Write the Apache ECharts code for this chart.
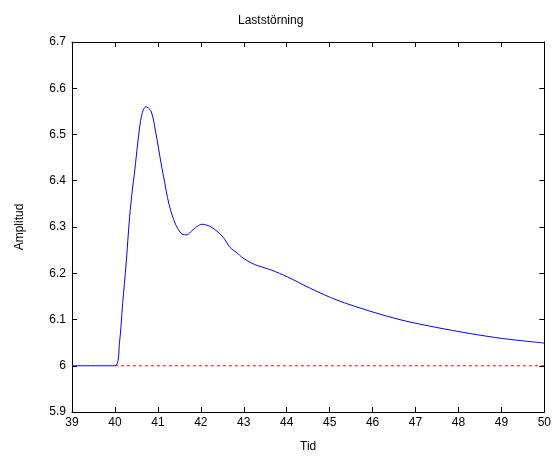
<!DOCTYPE html>
<html><head><meta charset="utf-8">
<script src="https://cdn.jsdelivr.net/npm/echarts@6/dist/echarts.min.js"></script>
<style>html,body{margin:0;padding:0;background:#fff;overflow:hidden}#c{width:554px;height:458px}</style>
</head><body><div id="c"></div>
<script>
const titleText = 'Laststörning';
const xName = 'Tid';
const yName = 'Amplitud';
const responseX = [39, 40, 40.106, 40.18, 40.26, 40.34, 40.41, 40.45, 40.57, 40.64, 40.72, 40.84, 40.95, 41.07, 41.13, 41.26, 41.41, 41.56, 41.68, 41.79, 42.03, 42.26, 42.52, 42.68, 42.87, 42.95, 43.25, 43.64, 44.02, 44.56, 45.17, 45.94, 46.71, 47.48, 48.25, 49.02, 50];
const responseY = [6, 6, 6.05, 6.135, 6.22, 6.32, 6.384, 6.413, 6.512, 6.548, 6.56, 6.551, 6.505, 6.44, 6.41, 6.349, 6.306, 6.285, 6.283, 6.292, 6.306, 6.299, 6.278, 6.256, 6.242, 6.235, 6.219, 6.207, 6.192, 6.167, 6.142, 6.118, 6.098, 6.083, 6.070, 6.059, 6.049];
const refX = [40, 50];
const refY = [6, 6];

const font = 'Liberation Sans, Arial, sans-serif';
const chart = echarts.init(document.getElementById('c'));
const axisLine = {show: true, lineStyle: {color: '#000', width: 1}};
const tick = {show: true, inside: true, length: 5, lineStyle: {color: '#000'}};
chart.setOption({
  animation: false,
  title: {text: titleText, left: 233, top: 10, textStyle: {fontFamily: font, fontSize: 12, fontWeight: 'normal', color: '#000'}},
  grid: {left: 72, right: 5, top: 42, bottom: 41, containLabel: false},
  xAxis: [
    {type: 'value', min: 39, max: 50, interval: 1, position: 'bottom',
     name: xName, nameLocation: 'middle', nameGap: 29,
     nameTextStyle: {fontFamily: font, fontSize: 12, color: '#000'},
     axisLine: axisLine, axisTick: tick, splitLine: {show: false},
     axisLabel: {fontFamily: font, fontSize: 12, color: '#000', margin: 5}},
    {type: 'value', min: 39, max: 50, interval: 1, position: 'top',
     axisLine: axisLine, axisTick: tick, splitLine: {show: false}, axisLabel: {show: false}}
  ],
  yAxis: [
    {type: 'value', min: 5.9, max: 6.7, interval: 0.1, position: 'left',
     name: yName, nameLocation: 'middle', nameGap: 46, nameRotate: 90,
     nameTextStyle: {fontFamily: font, fontSize: 12, color: '#000'},
     axisLine: axisLine, axisTick: tick, splitLine: {show: false},
     axisLabel: {fontFamily: font, fontSize: 12, color: '#000', margin: 6,
       formatter: v => String(parseFloat(v.toFixed(1)))}},
    {type: 'value', min: 5.9, max: 6.7, interval: 0.1, position: 'right',
     axisLine: axisLine, axisTick: tick, splitLine: {show: false}, axisLabel: {show: false}}
  ],
  series: [
    {type: 'line', data: refX.map((x, i) => [x, refY[i]]), symbol: 'none',
     lineStyle: {color: '#ff0000', width: 1, type: [3, 3]}},
    {type: 'line', data: responseX.map((x, i) => [x, responseY[i]]), symbol: 'none', smooth: 0.3,
     lineStyle: {color: '#0000ff', width: 1}}
  ]
});
</script></body></html>
